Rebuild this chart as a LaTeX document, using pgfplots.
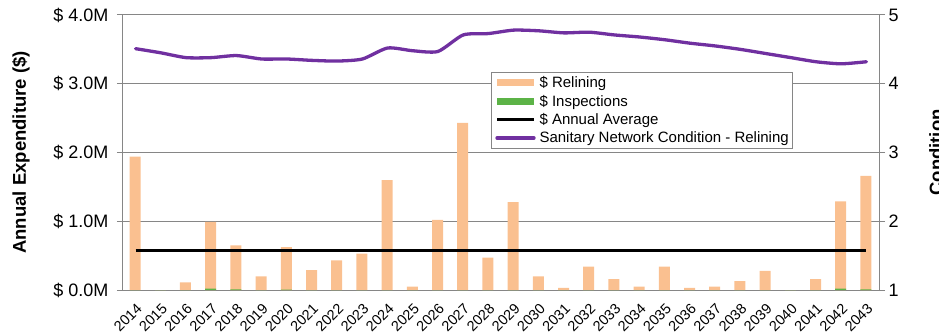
\documentclass[border=0pt]{standalone}
\usepackage{pgfplots}
\pgfplotsset{compat=1.18}
\usepackage{fontspec}
\setmainfont{Liberation Sans}

\definecolor{relining}{RGB}{250,192,144}
\definecolor{inspect}{RGB}{92,179,71}
\definecolor{cond}{RGB}{112,48,160}
\definecolor{axgray}{RGB}{134,134,134}

% Annual expenditure in $M per year (0 = 2014 ... 29 = 2043)
\pgfplotstableread{
x  relining inspections
0  1.94 0.00
1  0.00 0.00
2  0.11 0.00
3  0.99 0.02
4  0.65 0.01
5  0.20 0.00
6  0.625 0.005
7  0.29 0.00
8  0.43 0.00
9  0.53 0.00
10 1.60 0.00
11 0.05 0.00
12 1.02 0.00
13 2.43 0.00
14 0.47 0.00
15 1.28 0.00
16 0.20 0.00
17 0.03 0.00
18 0.34 0.00
19 0.16 0.00
20 0.05 0.00
21 0.34 0.00
22 0.03 0.00
23 0.05 0.00
24 0.13 0.00
25 0.28 0.00
26 0.00 0.00
27 0.16 0.00
28 1.29 0.02
29 1.66 0.01
}\expenditure

% Network condition score (1-5)
\pgfplotstableread{
x  condition
0  4.51
1  4.45
2  4.38
3  4.38
4  4.41
5  4.36
6  4.36
7  4.34
8  4.33
9  4.36
10 4.52
11 4.48
12 4.47
13 4.71
14 4.73
15 4.78
16 4.77
17 4.74
18 4.75
19 4.71
20 4.68
21 4.64
22 4.59
23 4.55
24 4.50
25 4.44
26 4.38
27 4.32
28 4.29
29 4.32
}\conditiondata

\begin{document}
\begin{tikzpicture}
\begin{axis}[
  at={(0pt,0pt)}, anchor=south west,
  scale only axis, width=756pt, height=275pt,
  xmin=-0.5, xmax=29.5, ymin=0, ymax=4,
  axis line style={axgray, line width=1pt},
  tick pos=left, tick align=outside,
  major tick length=6pt, minor tick length=6pt,
  ytick={0,1,2,3,4},
  yticklabels={\$ 0.0M,\$ 1.0M,\$ 2.0M,\$ 3.0M,\$ 4.0M},
  yticklabel style={font=\fontsize{18}{20}\selectfont, xshift=-5pt},
  ytick style={axgray, line width=1pt},
  ymajorgrids, grid style={axgray, line width=1pt},
  xtick={0,...,29},
  xticklabels={2014,2015,2016,2017,2018,2019,2020,2021,2022,2023,2024,2025,2026,2027,2028,2029,2030,2031,2032,2033,2034,2035,2036,2037,2038,2039,2040,2041,2042,2043},
  xtick style={draw=none},
  minor xtick={-0.5,0.5,...,29.5},
  minor x tick style={axgray, line width=1pt},
  xticklabel shift=5pt,
  xticklabel style={rotate=45, anchor=north east, inner sep=1pt,
    font=\fontsize{14.5}{16}\selectfont},
  clip=false,
]
\addplot[ybar, bar width=11pt, bar shift=-0.5pt, fill=relining, draw=none]
  table[x=x, y=relining] {\expenditure};
\addplot[ybar, bar width=11pt, bar shift=-0.5pt, fill=inspect, draw=none]
  table[x=x, y=inspections] {\expenditure};
\addplot[black, line width=3pt] coordinates {(0,0.57) (29,0.57)};
\end{axis}

\begin{axis}[
  at={(0pt,0pt)}, anchor=south west,
  scale only axis, width=756pt, height=275pt,
  xmin=-0.5, xmax=29.5, ymin=1, ymax=5,
  axis x line=none,
  axis y line*=right,
  axis line style={axgray, line width=1pt},
  tick align=outside, major tick length=6pt,
  ytick={1,2,3,4,5},
  ytick style={axgray, line width=1pt},
  yticklabel style={font=\fontsize{18}{20}\selectfont},
  /pgf/number format/assume math mode=true,
  legend image code/.code={\draw[#1] (0pt,0pt) -- (37pt,0pt);},
  legend style={at={(0.4868,0.7927)}, anchor=north west,
    draw=axgray, line width=1pt, fill=white,
    font=\fontsize{15}{17}\selectfont,
    inner xsep=2pt, inner ysep=2pt, row sep=1.8pt,
    nodes={inner sep=2pt}},
  legend cell align=left,
]
\addlegendimage{relining, line width=7pt}
\addlegendentry{\$ Relining}
\addlegendimage{inspect, line width=7pt}
\addlegendentry{\$ Inspections}
\addlegendimage{black, line width=3pt}
\addlegendentry{\$ Annual Average}
\addplot[cond, line width=3.3pt, smooth, tension=0.4, line cap=round]
  table[x=x, y=condition] {\conditiondata};
\addlegendentry{Sanitary Network Condition - Relining}
\end{axis}

\node[rotate=90, font=\fontsize{18.5}{20}\selectfont\bfseries] at (-102pt,137.5pt) {Annual Expenditure (\$)};
\node[rotate=90, anchor=north, inner sep=0pt, font=\fontsize{18.5}{20}\selectfont\bfseries] at (806pt,137.5pt) {Condition};

\pgfresetboundingbox
\path[use as bounding box] (-123pt,-45pt) rectangle (816pt,290pt);
\end{tikzpicture}
\end{document}
